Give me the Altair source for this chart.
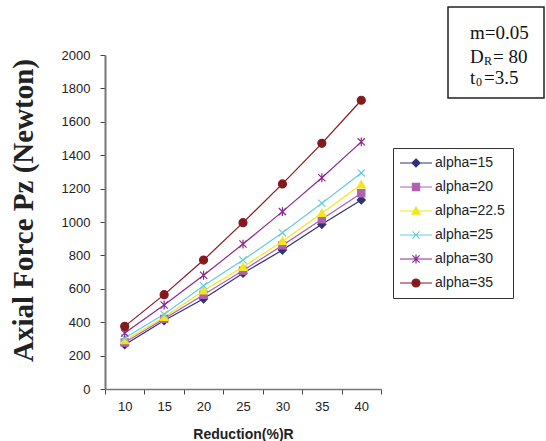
import altair as alt
import pandas as pd

reduction = [10, 15, 20, 25, 30, 35, 40]
series = ["alpha=15", "alpha=20", "alpha=22.5", "alpha=25", "alpha=30", "alpha=35"]
pz_a15 = [265, 410, 540, 693, 832, 986, 1132]
pz_a20 = [278, 420, 564, 709, 860, 1016, 1172]
pz_a225 = [290, 430, 588, 730, 885, 1052, 1224]
pz_a25 = [305, 447, 618, 772, 936, 1112, 1294]
pz_a30 = [335, 503, 681, 868, 1062, 1265, 1480]
pz_a35 = [375, 565, 772, 996, 1228, 1471, 1729]
y_ticks = list(range(0, 2001, 200))
x_ticks = [7.5, 10, 12.5, 15, 17.5, 20, 22.5, 25, 27.5, 30, 32.5, 35, 37.5, 40, 42.5]

colors = ["#2E3176", "#B060B0", "#F2E61E", "#66CCE0", "#8B2A8E", "#85191E"]
marker_paths = [
    "M0,-1L1,0L0,1L-1,0Z",
    "M-0.9,-0.9H0.9V0.9H-0.9Z",
    "M0,-1L1,0.8L-1,0.8Z",
    "M-0.9,-0.9L0.9,0.9M-0.9,0.9L0.9,-0.9",
    "M-0.9,-0.9L0.9,0.9M-0.9,0.9L0.9,-0.9M0,-1.1L0,1.1",
    "M1,0A1,1,0,1,1,-1,0A1,1,0,1,1,1,0Z",
]
legend_paths = ["M-4,0H4" + p for p in marker_paths]

rows = []
for name, vals in zip(series, [pz_a15, pz_a20, pz_a225, pz_a25, pz_a30, pz_a35]):
    for r, v in zip(reduction, vals):
        rows.append({"R": r, "Pz": v, "series": name})
df = pd.DataFrame(rows)

FONT = "Liberation Sans"
SERIF = "Liberation Serif"

x_enc = alt.X(
    "R:Q",
    scale=alt.Scale(domain=[7.5, 42.5], nice=False, zero=False),
    axis=alt.Axis(
        values=x_ticks,
        labelExpr="datum.value % 5 == 0 ? datum.label : ''",
        tickOpacity={"condition": {"test": "datum.value % 5 == 0", "value": 0}, "value": 1},
        labelOverlap=False,
        grid=False,
        tickSize=5,
        labelPadding=6,
        labelFont=FONT,
        labelFontSize=13,
        labelColor="#222",
        domainColor="#777",
        domainWidth=1.5,
        tickColor="#444",
        title="Reduction(%)R",
        titleFont=FONT,
        titleFontSize=14,
        titleFontWeight="bold",
        titleColor="#222",
        titleBaseline="middle",
        titleY=45,
    ),
)

y_axis = alt.Axis(
    values=y_ticks,
    format="d",
    grid=False,
    tickSize=5,
    labelPadding=10,
    labelFont=FONT,
    labelFontSize=13,
    labelColor="#222",
    domainColor="#777",
    domainWidth=2,
    tickColor="#444",
    title="Axial Force Pz (Newton)",
    titleFont=SERIF,
    titleFontSize=29,
    titleFontWeight="bold",
    titleColor="#222",
    titleBaseline="middle",
    titleX=-82,
    titleY=155,
)
y_scale = alt.Scale(domain=[0, 2000], nice=False)
y_enc = alt.Y("Pz:Q", scale=y_scale, axis=y_axis)

line_stroke = alt.Stroke("series:N", scale=alt.Scale(domain=series, range=colors), legend=None)
lines = alt.Chart(df).mark_line(strokeWidth=1.2).encode(x=x_enc, y=y_enc, stroke=line_stroke)

markers = alt.Chart(df).mark_point(filled=True, size=64, strokeWidth=1.2, opacity=1).encode(
    x=x_enc,
    y=y_enc,
    fill=alt.Fill("series:N", scale=alt.Scale(domain=series, range=colors), legend=None),
    stroke=alt.Stroke("series:N", scale=alt.Scale(domain=series, range=colors), legend=None),
    shape=alt.Shape("series:N", scale=alt.Scale(domain=series, range=marker_paths), legend=None),
)

leg = alt.Legend(
    title=None,
    orient="none",
    legendX=288,
    legendY=93,
    strokeColor="#333",
    padding=8,
    symbolOffset=8,
    labelOffset=12,
    rowPadding=10,
    labelFont=FONT,
    labelFontSize=14,
    labelColor="#222",
    symbolSize=64,
    symbolStrokeWidth=1.2,
)
legend_layer = (
    alt.Chart(df)
    .transform_calculate(Py="datum.Pz + 5000")
    .mark_point(filled=True, size=64, strokeWidth=1.2, opacity=1, clip=True)
    .encode(
        x=x_enc,
        y=alt.Y("Py:Q", scale=y_scale, axis=y_axis),
        fill=alt.Fill("series:N", scale=alt.Scale(domain=series, range=colors), legend=leg),
        stroke=alt.Stroke("series:N", scale=alt.Scale(domain=series, range=colors), legend=leg),
        shape=alt.Shape("series:N", scale=alt.Scale(domain=series, range=legend_paths), legend=leg),
    )
)

one = pd.DataFrame({"k": [0]})
box = alt.Chart(one).mark_rect(fill=None, stroke="#222", strokeWidth=1.5).encode(
    x=alt.value(343), x2=alt.value(439), y=alt.value(-48), y2=alt.value(43)
)

def txt(s, x, y, size=19):
    return alt.Chart(one).mark_text(
        text=s, font=SERIF, fontSize=size, align="left", baseline="alphabetic", color="#111"
    ).encode(x=alt.value(x), y=alt.value(y))

ann = [
    txt("m=0.05", 365, -16),
    txt("D", 365, 8),
    txt("R", 379, 10, 12),
    txt("= 80", 388, 8),
    txt("t", 365, 29),
    txt("0", 371, 31, 12),
    txt("=3.5", 379, 29),
]

chart = (
    alt.layer(lines, markers, legend_layer, box, *ann)
    .resolve_scale(fill="independent", stroke="independent", shape="independent")
    .properties(
        width=276,
        height=334,
        autosize=alt.AutoSizeParams(type="none"),
        padding={"left": 105, "top": 55, "right": 165, "bottom": 52},
        background="white",
    )
    .configure_view(stroke=None)
)

chart.save("out.html", embed_options={"renderer": "svg", "actions": False})
